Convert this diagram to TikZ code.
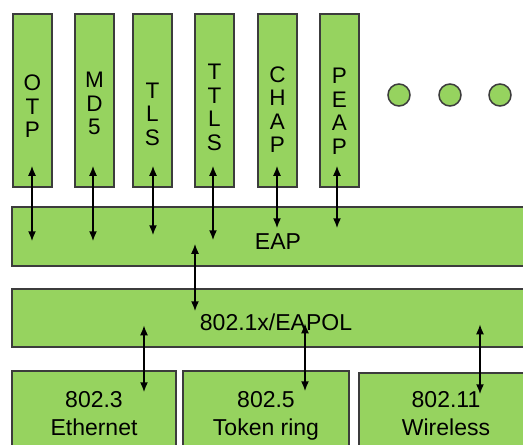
\documentclass[tikz,border=0pt]{standalone}
\usepackage{fontspec}
\setmainfont{Liberation Sans}
\usetikzlibrary{arrows.meta,calc}
\definecolor{layergreen}{HTML}{96D35F}
\definecolor{layeredge}{HTML}{3C3C3C}

\begin{document}
\begin{tikzpicture}[
    x=1pt, y=-1pt,
    box/.style={draw=layeredge, fill=layergreen, line width=1.5pt, inner sep=0pt},
    method/.style={box, minimum width=39pt, minimum height=173pt},
    lettr/.style={font=\fontsize{22.5}{23.5}\selectfont, align=center, text depth=0pt},
    bartext/.style={font=\fontsize{23}{28}\selectfont, align=center, text depth=0pt},
    dbl/.style={{Latex[length=10pt,width=8pt]}-{Latex[length=10pt,width=8pt]}, line width=1.6pt},
  ]
  \clip (0,0) rectangle (523,445);
  \fill[white] (0,0) rectangle (523,445);

  % EAP methods, 39 px wide columns
  \foreach \nm/\cx/\ty/\txt in {otp/32.5/106.5/{O\\T\\P}, md/94.5/103.5/{M\\D\\5},
                                tls/152.5/114/{T\\L\\S}, ttls/214.5/107.5/{T\\T\\L\\S},
                                chap/277.5/109.5/{C\\H\\A\\P}, peap/339.5/111.5/{P\\E\\A\\P}}{
    \node[method] (\nm) at (\cx,100.5) {};
    \node[lettr] (\nm txt) at (\cx,\ty) {\txt};
  }

  % more methods
  \foreach \cx [count=\i] in {399,450,500}
    \node[box, circle, minimum size=22pt] (more\i) at (\cx,95) {};

  % the two stacked layers
  \node[box, minimum width=528pt, minimum height=59pt] (eap) at (276,236.5) {};
  \node[bartext] (eaptxt) at (278,242) {EAP};
  \node[box, minimum width=528pt, minimum height=58pt] (eapol) at (276,318) {};
  \node[bartext] (eapoltxt) at (276,322) {802.1x/EAPOL};

  % media
  \node[box, minimum width=164pt, minimum height=90pt] (eth) at (94,416) {};
  \node[bartext] (ethtxt) at (94,413) {802.3\\Ethernet};
  \node[box, minimum width=166pt, minimum height=90pt] (tok) at (266,416) {};
  \node[bartext] (toktxt) at (266,413) {802.5\\Token ring};
  \node[box, minimum width=181pt, minimum height=90pt] (wl) at (449.5,418) {};
  \node[bartext] (wltxt) at (446,413) {802.11\\Wireless};

  % methods <-> EAP
  \foreach \nm/\dy/\dx in {otp/35/-0.5, md/35/-1.5, tls/29/0.5, ttls/34/-1.5, chap/22/-0.5, peap/22/-2.5}
    \draw[dbl] ($(\nm.south)+(\dx,-22)$) -- ($(eap.north -| \nm.south)+(\dx,\dy)$);

  % between layers
  \draw[dbl] ($(eap.south)+(-81,-23)$) -- ($(eapol.north)+(-81,23)$);
  \draw[dbl] ($(eth.north)+(50,-45)$) -- ($(eth.north)+(50,22)$);
  \draw[dbl] ($(tok.north)+(39,-47)$) -- ($(tok.north)+(39,21)$);
  \draw[dbl] ($(wl.north)+(30.5,-48)$) -- ($(wl.north)+(30.5,22)$);
\end{tikzpicture}
\end{document}
